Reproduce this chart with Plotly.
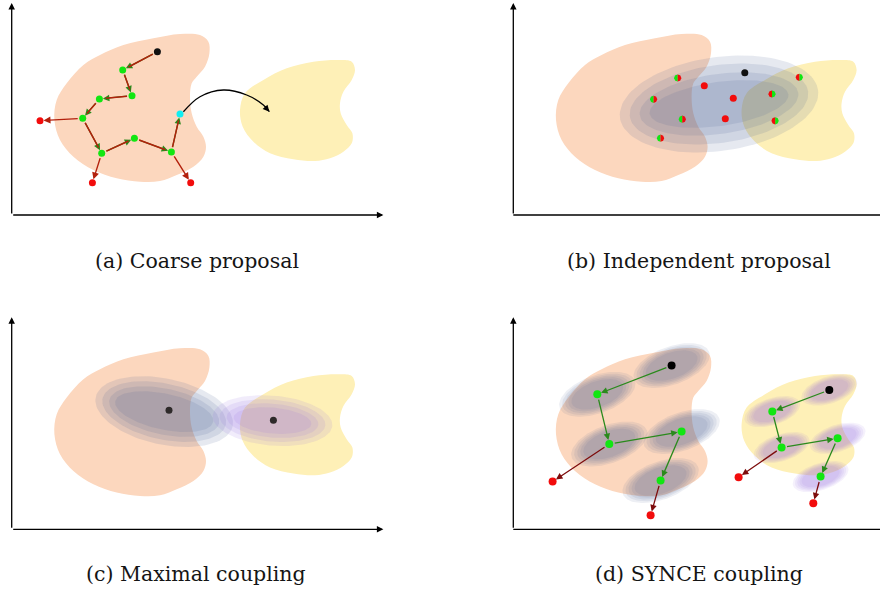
import numpy as np
import plotly.graph_objects as go

W, H = 880, 592

# ---------------------------------------------------------------------------
# Data (panel-local units: 1 unit = 1 px, origin at the corner of the axes)
# ---------------------------------------------------------------------------

# outlines of the two target densities, shared by all four panels
ORANGE_X = [71.7, 88.3, 111.7, 141.7, 168.3, 188.3, 196.7, 197.7, 193.3, 185.0,
            180.0, 178.3, 180.0, 185.0, 191.7, 194.3, 191.7, 181.7, 165.0, 148.3,
            128.3, 105.0, 81.7, 61.7, 48.3, 42.7, 45.0, 55.0]
ORANGE_Y = [150.0, 160.0, 170.0, 176.7, 181.0, 180.0, 173.3, 161.7, 148.3, 138.3,
            131.7, 118.3, 101.7, 88.3, 78.3, 68.3, 58.3, 48.3, 40.0, 34.0,
            33.3, 36.7, 45.0, 58.3, 75.0, 95.0, 115.0, 131.7]
YELLOW_X = [228.3, 233.3, 251.7, 275.0, 301.7, 328.3, 340.0, 343.3, 340.0, 331.7,
            328.3, 329.0, 335.0, 340.7, 340.0, 331.7, 318.3, 303.3, 281.7, 258.3,
            241.7, 231.0]
YELLOW_Y = [105.0, 121.7, 135.0, 146.7, 153.3, 155.0, 153.3, 145.0, 135.0, 123.3,
            111.7, 101.7, 90.0, 81.7, 71.7, 63.3, 56.7, 54.0, 55.7, 61.7,
            73.3, 88.3]

# (a) coarse proposal: a random-walk chain inside the orange mode
A_START = (145.7, 163.3)
A_GREEN_X = [111.0, 120.3, 87.7, 71.0, 90.0, 122.7, 159.7]
A_GREEN_Y = [145.0, 119.3, 116.0, 96.7, 61.7, 76.7, 63.0]
A_REJECT_X = [28.3, 80.7, 179.0]
A_REJECT_Y = [94.3, 32.3, 32.3]
A_LAST = (168.3, 101.0)
# chain moves: ("s" start, "g" accepted, "r" rejected, "c" last state)
A_MOVES = [("s", 0, "g", 0), ("g", 0, "g", 1), ("g", 1, "g", 2), ("g", 2, "g", 3),
           ("g", 3, "r", 0), ("g", 3, "g", 4), ("g", 4, "r", 1), ("g", 4, "g", 5),
           ("g", 5, "g", 6), ("g", 6, "r", 2), ("g", 6, "c", 0)]
A_JUMP_X = [171.7, 188.3, 211.7, 235.0, 251.7, 257.7]
A_JUMP_Y = [103.3, 118.3, 125.0, 120.0, 110.0, 103.3]

# (b) independent proposal: one broad Gaussian and its draws
B_START = (231.5, 142.2)
B_CENTER = (205.7, 111.0)
B_TILT = 8.0
B_RINGS_A = [100.0, 90.0, 80.0, 70.0]
B_RINGS_B = [47.0, 39.0, 30.0, 22.0]
B_SPLIT_X = [164.4, 140.3, 169.0, 147.2, 258.7, 286.0, 261.8]
B_SPLIT_Y = [137.0, 115.7, 95.8, 76.8, 121.0, 137.7, 94.2]
B_SPLIT_SIDE = [-1, -1, -1, -1, 1, 1, 1]      # side of the green half
B_REJECT_X = [191.0, 220.0, 212.0]
B_REJECT_Y = [129.3, 116.7, 96.2]

# (c) maximal coupling of two local proposals
C_DOTS_X = [157.3, 261.7]
C_DOTS_Y = [119.0, 109.0]
C_LEFT_CENTER = (152.5, 117.7)
C_LEFT_TILT = -12.0
C_LEFT_A = [70.0, 63.0, 56.0, 50.0]
C_LEFT_B = [33.0, 28.0, 23.0, 18.0]
C_RIGHT_CENTER = (260.8, 108.7)
C_RIGHT_TILT = -5.0
C_RIGHT_A = [60.0, 53.0, 46.0, 39.0]
C_RIGHT_B = [25.0, 21.0, 17.0, 13.0]

# (d) SYNCE coupling: two coupled chains, one per mode
D_LEFT_STATES_X = [158.3, 84.0, 96.0, 168.3, 147.3]
D_LEFT_STATES_Y = [163.7, 135.0, 85.3, 97.7, 48.7]
D_LEFT_REJECT_X = [39.3, 137.3]
D_LEFT_REJECT_Y = [47.7, 14.0]
D_RIGHT_STATES_X = [316.0, 259.0, 268.3, 324.3, 307.3]
D_RIGHT_STATES_Y = [139.3, 117.7, 81.7, 91.0, 52.7]
D_RIGHT_REJECT_X = [225.3, 300.0]
D_RIGHT_REJECT_Y = [52.0, 26.0]
D_ACCEPT_MOVES = [(0, 1), (1, 2), (2, 3), (3, 4)]
D_REJECT_MOVES = [(2, 0), (4, 1)]
D_LEFT_KERNEL = (40.0, 19.0, 20.0)
D_RIGHT_KERNEL = (29.0, 13.5, 18.0)

CAPTIONS = ["(a) Coarse proposal", "(b) Independent proposal",
            "(c) Maximal coupling", "(d) SYNCE coupling"]

# ---------------------------------------------------------------------------
# Styling
# ---------------------------------------------------------------------------
ORANGE = "rgb(252,215,190)"
YELLOW = "rgb(254,240,183)"
BLUE = "rgba(80,100,150,{a})"
PURPLE = "rgba(145,105,225,{a})"
GREEN = "#12e612"
RED = "#f20c0c"
CYAN = "#10eef2"
DARK = "#111111"
ARROW_RED = "#b3200c"
ARROW_GREEN = "#2a8a1c"
ARROW_DARKRED = "#7d0c0c"

# panel origins in page pixels, and their x extent in local units
PANELS = [
    dict(ox=11.7, oy=215.0, xr=(-11.7, 378.0)),
    dict(ox=513.3, oy=215.0, xr=(-13.3, 366.7)),
    dict(ox=11.7, oy=529.3, xr=(-11.7, 378.0)),
    dict(ox=513.3, oy=529.3, xr=(-13.3, 366.7)),
]
YR = (-15.0, 214.0)

fig = go.Figure()
annotations = []


def refs(k):
    return ("x", "y") if k == 0 else (f"x{k + 1}", f"y{k + 1}")


def add(k, **kw):
    xr, yr = refs(k)
    kw.setdefault("showlegend", False)
    kw.setdefault("hoverinfo", "skip")
    fig.add_trace(go.Scatter(xaxis=xr, yaxis=yr, **kw))


def ellipse(cx, cy, a, b, deg, n=120):
    t = np.linspace(0, 2 * np.pi, n)
    th = np.radians(deg)
    x = cx + a * np.cos(t) * np.cos(th) - b * np.sin(t) * np.sin(th)
    y = cy + a * np.cos(t) * np.sin(th) + b * np.sin(t) * np.cos(th)
    return x, y


def fill_poly(k, x, y, color, spline=False):
    x = list(x) + [x[0]]
    y = list(y) + [y[0]]
    add(k, x=x, y=y, mode="lines", fill="toself", fillcolor=color,
        line=dict(width=0, color=color, shape="spline" if spline else "linear",
                  smoothing=1.0))


def rings(k, cx, cy, a_list, b_list, deg, tmpl, alpha):
    for a, b in zip(a_list, b_list):
        x, y = ellipse(cx, cy, a, b, deg)
        fill_poly(k, x, y, tmpl.format(a=alpha))


def dots(k, xs, ys, color, size=7):
    add(k, x=list(xs), y=list(ys), mode="markers",
        marker=dict(size=size, color=color, line=dict(width=0)))


def arrow(k, p0, p1, color, width=1.3, head=2, size=1.0, standoff=3.5,
          startstandoff=3.5):
    xr, yr = refs(k)
    annotations.append(dict(
        x=p1[0], y=p1[1], ax=p0[0], ay=p0[1], xref=xr, yref=yr, axref=xr,
        ayref=yr, text="", showarrow=True, arrowhead=head, arrowsize=size,
        arrowwidth=width, arrowcolor=color, standoff=standoff,
        startstandoff=startstandoff))


def half_disc(k, cx, cy, r, side, color):
    t = np.linspace(-np.pi / 2, np.pi / 2, 24)
    x = cx + side * r * np.cos(t)
    y = cy + r * np.sin(t)
    fill_poly(k, x, y, color)


# ---------------------------------------------------------------------------
# Shared background: the two modes and the axes of each panel
# ---------------------------------------------------------------------------
for k in range(4):
    fill_poly(k, ORANGE_X, ORANGE_Y, ORANGE, spline=True)
    fill_poly(k, YELLOW_X, YELLOW_Y, YELLOW, spline=True)
    # vertical axis with arrow
    arrow(k, (0, 0), (0, 212), "black", width=1.3, head=2, size=1.0,
          standoff=0, startstandoff=0)
    # horizontal axis
    if k in (0, 2):
        arrow(k, (0, 0), (371.7, 0), "black", width=1.3, head=2, size=1.0,
              standoff=0, startstandoff=0)
    else:
        add(k, x=[0, PANELS[k]["xr"][1]], y=[0, 0], mode="lines",
            line=dict(color="black", width=1.3))

# ---------------------------------------------------------------------------
# (a) Coarse proposal
# ---------------------------------------------------------------------------
a_pts = {
    "s": [A_START],
    "g": list(zip(A_GREEN_X, A_GREEN_Y)),
    "r": list(zip(A_REJECT_X, A_REJECT_Y)),
    "c": [A_LAST],
}
for s_kind, s_i, e_kind, e_i in A_MOVES:
    p0 = a_pts[s_kind][s_i]
    p1 = a_pts[e_kind][e_i]
    if e_kind == "r":
        arrow(0, p0, p1, ARROW_RED, width=1.4)
    else:
        arrow(0, p0, p1, ARROW_GREEN, width=1.3)
        arrow(0, p0, p1, ARROW_RED, width=1.5, head=0, standoff=6.5)

add(0, x=A_JUMP_X, y=A_JUMP_Y, mode="lines",
    line=dict(color="black", width=1.3, shape="spline", smoothing=1.0))
arrow(0, (A_JUMP_X[-2], A_JUMP_Y[-2]), (A_JUMP_X[-1], A_JUMP_Y[-1]), "black",
      width=1.3, head=2, standoff=0, startstandoff=0)

dots(0, A_GREEN_X, A_GREEN_Y, GREEN)
dots(0, A_REJECT_X, A_REJECT_Y, RED)
dots(0, [A_START[0]], [A_START[1]], DARK)
dots(0, [A_LAST[0]], [A_LAST[1]], CYAN)

# ---------------------------------------------------------------------------
# (b) Independent proposal
# ---------------------------------------------------------------------------
rings(1, B_CENTER[0], B_CENTER[1], B_RINGS_A, B_RINGS_B, B_TILT, BLUE, 0.14)
for x, y, side in zip(B_SPLIT_X, B_SPLIT_Y, B_SPLIT_SIDE):
    half_disc(1, x, y, 3.6, side, GREEN)
    half_disc(1, x, y, 3.6, -side, RED)
dots(1, B_REJECT_X, B_REJECT_Y, RED)
dots(1, [B_START[0]], [B_START[1]], DARK)

# ---------------------------------------------------------------------------
# (c) Maximal coupling
# ---------------------------------------------------------------------------
rings(2, C_LEFT_CENTER[0], C_LEFT_CENTER[1], C_LEFT_A, C_LEFT_B, C_LEFT_TILT,
      BLUE, 0.14)
rings(2, C_RIGHT_CENTER[0], C_RIGHT_CENTER[1], C_RIGHT_A, C_RIGHT_B,
      C_RIGHT_TILT, PURPLE, 0.13)
dots(2, C_DOTS_X, C_DOTS_Y, "#2e2a2a")

# ---------------------------------------------------------------------------
# (d) SYNCE coupling
# ---------------------------------------------------------------------------
chains = [
    (D_LEFT_STATES_X, D_LEFT_STATES_Y, D_LEFT_REJECT_X, D_LEFT_REJECT_Y,
     D_LEFT_KERNEL, BLUE, 0.10),
    (D_RIGHT_STATES_X, D_RIGHT_STATES_Y, D_RIGHT_REJECT_X, D_RIGHT_REJECT_Y,
     D_RIGHT_KERNEL, PURPLE, 0.09),
]
for sx, sy, rx, ry, (ka, kb, kdeg), tmpl, alpha in chains:
    for cx, cy in zip(sx, sy):
        for f in (1.0, 0.92, 0.84, 0.76, 0.68):
            x, y = ellipse(cx, cy, ka * f, kb * f, kdeg)
            fill_poly(3, x, y, tmpl.format(a=alpha))
for sx, sy, rx, ry, _, _, _ in chains:
    for i, j in D_ACCEPT_MOVES:
        arrow(3, (sx[i], sy[i]), (sx[j], sy[j]), ARROW_GREEN, width=1.3,
              standoff=4, startstandoff=4)
    for i, j in D_REJECT_MOVES:
        arrow(3, (sx[i], sy[i]), (rx[j], ry[j]), ARROW_DARKRED, width=1.3,
              standoff=4, startstandoff=4)
    dots(3, sx[1:], sy[1:], GREEN, size=8)
    dots(3, rx, ry, RED, size=8)
    dots(3, [sx[0]], [sy[0]], "black", size=8)

# ---------------------------------------------------------------------------
# Captions
# ---------------------------------------------------------------------------
CAPTION_POS = [(197.0, 261.0), (698.5, 261.0), (196.0, 574.0), (699.0, 574.0)]
for text, (px, py) in zip(CAPTIONS, CAPTION_POS):
    annotations.append(dict(
        x=px / W, y=1 - py / H, xref="paper", yref="paper", text=text,
        showarrow=False, xanchor="center", yanchor="middle",
        font=dict(family="DejaVu Serif", size=20.5, color="#151515")))

# ---------------------------------------------------------------------------
# Layout: one pixel-scaled subplot per panel
# ---------------------------------------------------------------------------
layout = dict(width=W, height=H, margin=dict(l=0, r=0, t=0, b=0),
              paper_bgcolor="white", plot_bgcolor="rgba(0,0,0,0)",
              annotations=annotations, showlegend=False)
for k, p in enumerate(PANELS):
    x0, x1 = p["xr"]
    dx = [max(0.0, (p["ox"] + x0) / W), min(1.0, (p["ox"] + x1) / W)]
    dy = [1 - (p["oy"] - YR[0]) / H, 1 - (p["oy"] - YR[1]) / H]
    xname = "xaxis" if k == 0 else f"xaxis{k + 1}"
    yname = "yaxis" if k == 0 else f"yaxis{k + 1}"
    xa, ya = refs(k)
    layout[xname] = dict(domain=dx, range=[x0, x1], visible=False,
                         fixedrange=True, anchor=ya)
    layout[yname] = dict(domain=dy, range=list(YR), visible=False,
                         fixedrange=True, anchor=xa)
fig.update_layout(**layout)

fig.write_html("out.html")
